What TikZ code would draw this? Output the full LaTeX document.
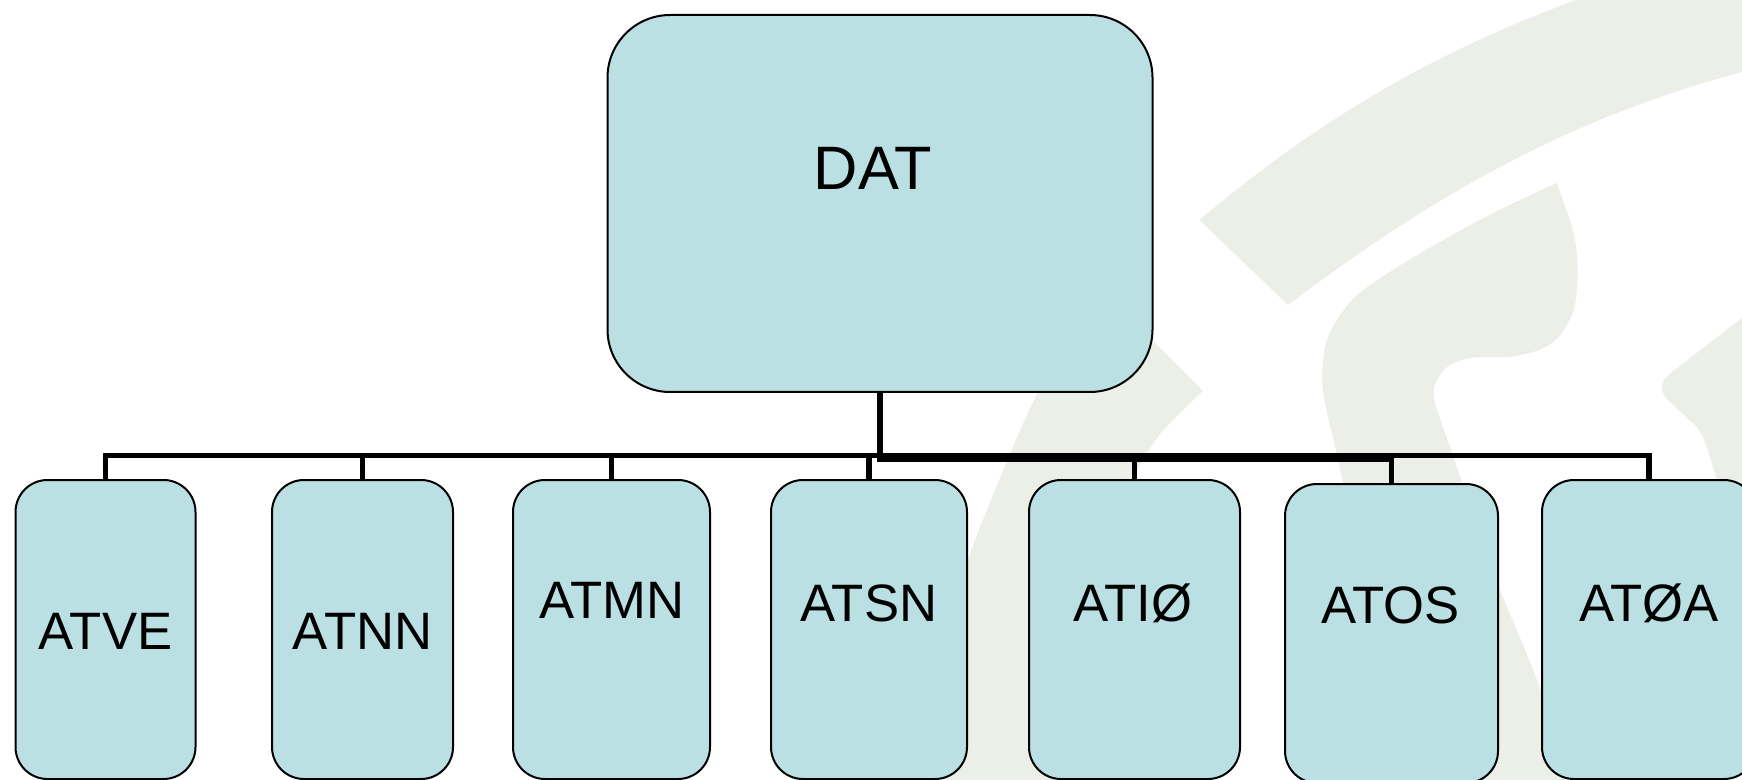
\documentclass[tikz,border=0pt]{standalone}
\usepackage{fontspec}
\setmainfont{Liberation Sans}
\definecolor{boxfill}{RGB}{187,224,227}
\definecolor{wmcol}{RGB}{236,239,232}
\begin{document}
\begin{tikzpicture}[x=0.75pt,y=-0.75pt,
  wm/.style={fill=wmcol},
  box/.style={draw=black, line width=1.5pt, fill=boxfill, rounded corners=24pt,
              inner sep=0pt, minimum height=224.25pt},
  bigbox/.style={draw=black, line width=1.5pt, fill=boxfill, rounded corners=47pt,
              inner sep=0pt, minimum width=408.75pt, minimum height=282.75pt},
  conn/.style={draw=black, line width=4.2pt, line join=miter},
  lbl/.style={anchor=base, inner sep=0pt, font=\fontsize{39.5pt}{40pt}\selectfont},
  biglbl/.style={anchor=base, inner sep=0pt, font=\fontsize{46pt}{47pt}\selectfont}]

\fill[white] (0,0) rectangle (1742,780);
\useasboundingbox (0,0) rectangle (1742,780);

% watermark
\fill[wm] (1199.5,220) .. controls (1330,110) and (1450,45) .. (1590,-5)
  -- (1760,-5) -- (1760,68) -- (1742,72)
  .. controls (1560,120) and (1420,205) .. (1288,305) -- cycle;
\fill[wm] plot[smooth] coordinates {(1556.5,183) (1485.5,217) (1409,260) (1355,297) (1328,337) (1322,380) (1328,417) (1336,450) (1360,560) (1395,680) (1425,800)}
  -- (1580,800)
  -- plot[smooth] coordinates {(1572,790) (1537,680) (1492,570) (1451,450) (1439.4,417) (1433.7,397) (1435.6,383) (1447,367) (1470,358) (1508.5,357) (1539,350) (1558.4,337) (1573.8,310) (1577.6,273) (1573.8,233) (1556.5,183)}
  -- cycle;
\fill[wm] (1093,281) -- (1203,391)
  -- plot[smooth] coordinates {(1203,391) (1161,433) (1130,483) (1100,560) (1075,650) (1058,800)}
  -- (910,800)
  -- plot[smooth] coordinates {(915,790) (932,700) (950,620) (971.6,550) (991,500) (1019,433) (1038,392) (1093,281)}
  -- cycle;
\fill[wm] (1760,300) -- (1742,318) -- (1672,372) .. controls (1658,383) and (1660,392) .. (1668,400)
  -- (1697,427) .. controls (1705,440) .. (1716,477) -- (1745,580) -- (1760,580) -- cycle;

% boxes
\node[bigbox] (DAT) at (880,203.5) {};
\node[box, minimum width=135pt]    (ATVE) at (105.5,629.5) {};
\node[box, minimum width=135.75pt] (ATNN) at (362.5,629.5) {};
\node[box, minimum width=147.75pt] (ATMN) at (611.5,629.5) {};
\node[box, minimum width=147pt]    (ATSN) at (869,629.5) {};
\node[box, minimum width=158.25pt] (ATIO) at (1134.5,629.5) {};
\node[box, minimum width=159.75pt] (ATOS) at (1391.5,633.5) {};
\node[box, minimum width=160.5pt]  (ATOA) at (1649,629.5) {};

% labels
\node[biglbl] (lDAT) at (873,190) {DAT};
\node[lbl] (lATVE) at (105.5,649) {ATVE};
\node[lbl] (lATNN) at (362.5,649) {ATNN};
\node[lbl] (lATMN) at (612,618) {ATMN};
\node[lbl] (lATSN) at (869,621) {ATSN};
\node[lbl] (lATIO) at (1133,621) {ATIØ};
\node[lbl] (lATOS) at (1390.5,623) {ATOS};
\node[lbl] (lATOA) at (1649,621) {ATØA};

% connectors
\coordinate (busA) at (880,455.5);
\coordinate (busB) at (880,459.5);
\draw[conn] (DAT.south) -- (busA) -| (ATVE.north);
\draw[conn] (DAT.south) -- (busA) -| (ATNN.north);
\draw[conn] (DAT.south) -- (busA) -| (ATMN.north);
\draw[conn] (DAT.south) -- (busA) -| (ATSN.north);
\draw[conn] (DAT.south) -- (busA) -| (ATOA.north);
\draw[conn] (DAT.south) -- (busB) -| (ATIO.north);
\draw[conn] (DAT.south) -- (busB) -| (ATOS.north);
\end{tikzpicture}
\end{document}
